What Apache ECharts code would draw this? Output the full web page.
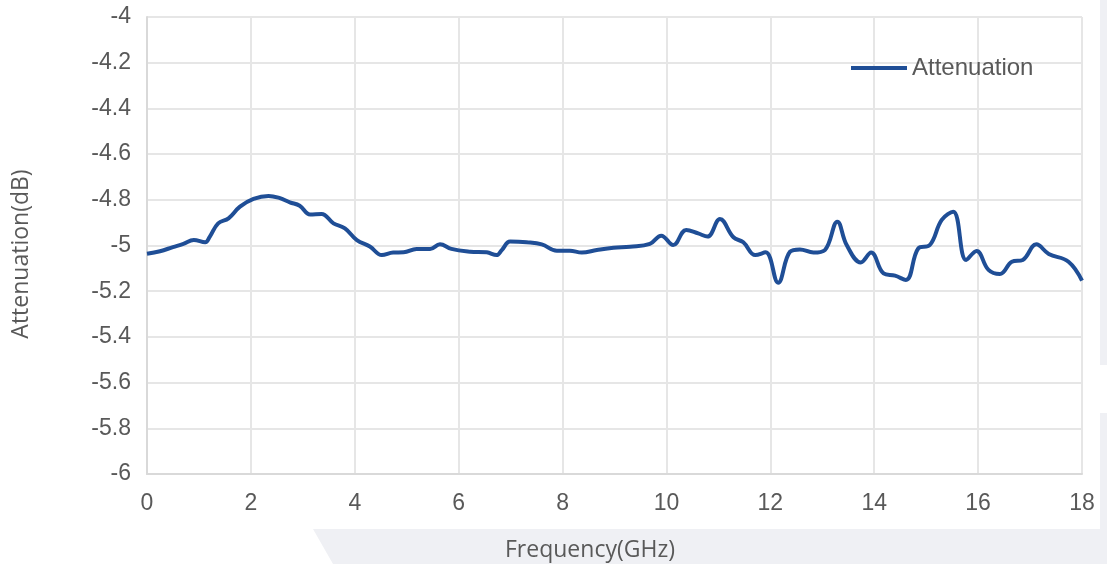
<!DOCTYPE html>
<html>
<head>
<meta charset="utf-8">
<style>
    html, body { margin: 0; padding: 0; background: #fff; }
    #main { width: 1107px; height: 564px; }
</style>
<script src="https://cdn.jsdelivr.net/npm/echarts@6/dist/echarts.min.js"></script>
</head>
<body>
<div id="main"></div>
<script>
    // 频率 (GHz)
    var freq = [0, 0.25, 0.5, 0.7, 0.9, 1.12, 1.21, 1.37, 1.57, 1.79, 2.05, 2.34, 2.56, 2.75, 2.94,
        3.14, 3.36, 3.59, 3.81, 4.04, 4.29, 4.52, 4.74, 4.94, 5.19, 5.45, 5.64, 5.86, 6.22, 6.54,
        6.73, 6.83, 6.99, 7.31, 7.6, 7.89, 8.14, 8.37, 8.66, 8.98, 9.3, 9.68, 9.9, 10.13, 10.38,
        10.61, 10.79, 11.03, 11.29, 11.48, 11.71, 11.91, 12.15, 12.38, 12.57, 12.83, 13.05, 13.29,
        13.47, 13.74, 13.94, 14.18, 14.4, 14.61, 14.85, 15.07, 15.3, 15.52, 15.77, 15.97, 16.2,
        16.42, 16.65, 16.86, 17.12, 17.36, 17.74, 18];
    // 衰减 (dB)
    var atten = [-5.036, -5.025, -5.007, -4.993, -4.976, -4.986, -4.961, -4.903, -4.881, -4.83, -4.796,
        -4.783, -4.793, -4.811, -4.826, -4.864, -4.862, -4.903, -4.925, -4.976, -5.004, -5.042, -5.031,
        -5.03, -5.015, -5.015, -4.995, -5.015, -5.027, -5.03, -5.042, -5.02, -4.983, -4.986, -4.995,
        -5.023, -5.023, -5.031, -5.02, -5.01, -5.005, -4.993, -4.957, -4.998, -4.932, -4.947, -4.961,
        -4.884, -4.964, -4.986, -5.042, -5.03, -5.163, -5.027, -5.017, -5.031, -5.02, -4.896, -4.998,
        -5.074, -5.031, -5.122, -5.132, -5.151, -5.012, -4.998, -4.888, -4.852, -5.063, -5.024, -5.107,
        -5.125, -5.071, -5.063, -4.995, -5.037, -5.071, -5.154];
    var seriesName = 'Attenuation';

    var lineData = freq.map(function (f, i) { return [f, atten[i]]; });

    var myChart = echarts.init(document.getElementById('main'));
    var opt = {
        animation: false,
        textStyle: { fontFamily: 'Liberation Sans' },
        grid: { left: 147, right: 25, top: 17, bottom: 90, containLabel: false },
        legend: {
            data: [seriesName],
            left: 846,
            top: 51,
            icon: 'rect',
            itemWidth: 56,
            itemHeight: 4,
            textStyle: { color: '#595959', fontSize: 24, fontFamily: 'Liberation Sans' }
        },
        xAxis: {
            type: 'value',
            min: 0,
            max: 18,
            interval: 2,
            axisLine: { show: true, lineStyle: { color: '#d9d9d9', width: 2 } },
            axisTick: { show: false },
            axisLabel: { color: '#595959', fontSize: 23, margin: 18 },
            splitLine: { show: true, lineStyle: { color: '#e6e6e6', width: 2 } }
        },
        yAxis: {
            type: 'value',
            min: -6,
            max: -4,
            interval: 0.2,
            axisLine: { show: true, lineStyle: { color: '#d9d9d9', width: 2 } },
            axisTick: { show: false },
            axisLabel: { color: '#595959', fontSize: 23, margin: 16 },
            splitLine: { show: true, lineStyle: { color: '#e6e6e6', width: 2 } }
        },
        graphic: [
            {
                type: 'polygon', z: -10,
                shape: { points: [[313, 529], [1107, 529], [1107, 564], [333, 564]] },
                style: { fill: '#eff0f4' }
            },
            { type: 'rect', z: -10, shape: { x: 1100, y: 0, width: 7, height: 365 }, style: { fill: '#eff0f4' } },
            { type: 'rect', z: -10, shape: { x: 1100, y: 413, width: 7, height: 116 }, style: { fill: '#eff0f4' } },
            {
                type: 'text', left: 505, top: 539,
                style: { text: 'Frequency(GHz)', fill: '#595959', fontSize: 23, fontFamily: 'Open Sans' }
            },
            {
                type: 'text', x: 21, y: 254, rotation: Math.PI / 2,
                style: {
                    text: 'Attenuation(dB)', fill: '#595959', fontSize: 23, fontFamily: 'Open Sans',
                    align: 'center', verticalAlign: 'middle'
                }
            },
            // 右上角边框
            { type: 'line', shape: { x1: 147, y1: 17, x2: 1082, y2: 17 }, style: { stroke: '#d9d9d9', lineWidth: 2 } },
            { type: 'line', shape: { x1: 1082, y1: 17, x2: 1082, y2: 474 }, style: { stroke: '#d9d9d9', lineWidth: 2 } }
        ],
        series: [{
            name: seriesName,
            type: 'line',
            smooth: 0.4,
            showSymbol: false,
            data: lineData,
            lineStyle: { color: '#1f4e96', width: 4 },
            itemStyle: { color: '#1f4e96' }
        }]
    };
    myChart.setOption(opt);
</script>
</body>
</html>
